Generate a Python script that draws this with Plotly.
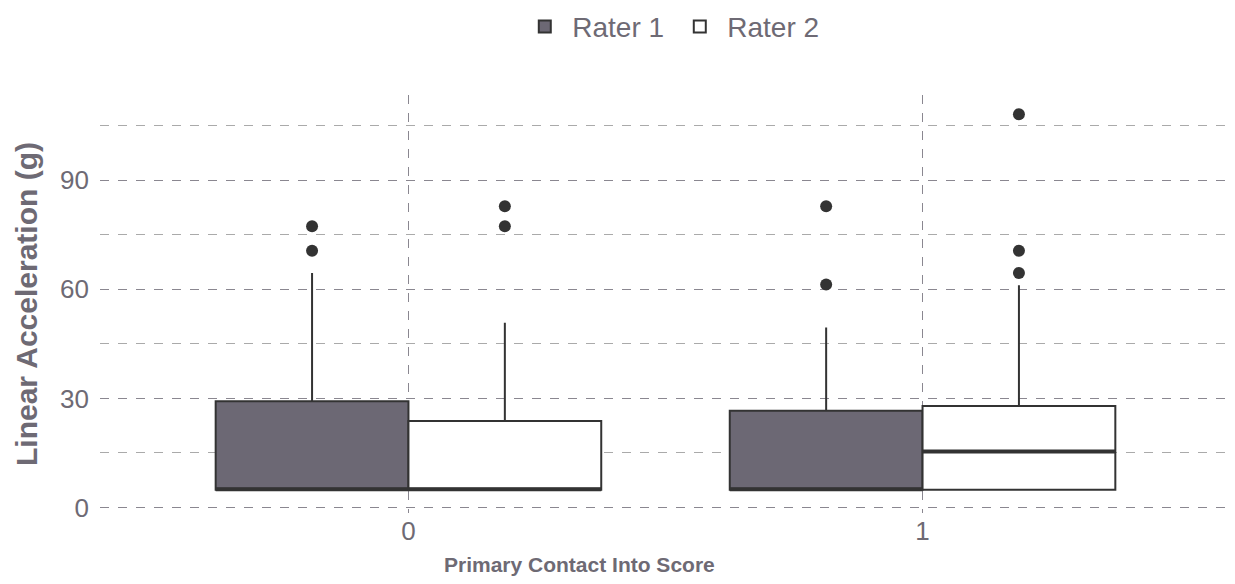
import plotly.graph_objects as go

categories = ["0", "1"]
cat_pos = [0, 1]
raters = ["Rater 1", "Rater 2"]

q1 = {"Rater 1": [4.9, 4.9], "Rater 2": [4.9, 4.9]}
median = {"Rater 1": [5.0, 5.0], "Rater 2": [5.0, 15.4]}
q3 = {"Rater 1": [29.2, 26.6], "Rater 2": [23.8, 27.9]}
upper = {"Rater 1": [64.5, 49.5], "Rater 2": [50.8, 61.1]}
lower = {"Rater 1": [4.9, 4.9], "Rater 2": [4.9, 4.9]}
outliers = {
    "Rater 1": [[70.6, 77.3], [61.3, 82.8]],
    "Rater 2": [[77.3, 82.8], [64.5, 70.6, 108.1]],
}
fills = {"Rater 1": "#6c6874", "Rater 2": "#ffffff"}

LINE = "#333333"
TEXT = "#6e6a74"
FONT = "Liberation Sans, Arial, sans-serif"
box_w = 0.375
offsets = {"Rater 1": -box_w / 2, "Rater 2": box_w / 2}

fig = go.Figure()
for r in raters:
    xs = [p + offsets[r] for p in cat_pos]
    fig.add_trace(go.Box(
        name=r, x=xs, q1=q1[r], median=median[r], q3=q3[r],
        lowerfence=lower[r], upperfence=upper[r],
        width=box_w, whiskerwidth=0, fillcolor=fills[r],
        line=dict(color=LINE, width=2), boxpoints=False,
        showlegend=True, hoverinfo="skip",
    ))
for r in raters:
    for i, p in enumerate(cat_pos):
        xc = p + offsets[r]
        fig.add_trace(go.Scatter(
            x=[xc - box_w / 2, xc + box_w / 2], y=[median[r][i]] * 2,
            mode="lines", line=dict(color=LINE, width=4),
            showlegend=False, hoverinfo="skip",
        ))
        fig.add_trace(go.Scatter(
            x=[xc] * len(outliers[r][i]), y=outliers[r][i],
            mode="markers", marker=dict(color=LINE, size=12),
            showlegend=False, hoverinfo="skip",
        ))

fig.add_annotation(
    text="<b>Primary Contact Into Score</b>", xref="paper", yref="paper",
    x=0.424, y=-0.1244, xanchor="center", yanchor="middle", showarrow=False,
    font=dict(size=21, color=TEXT, family=FONT),
)

fig.update_layout(
    width=1227, height=576,
    margin=dict(l=92, r=4, t=87, b=71, autoexpand=False),
    plot_bgcolor="white", paper_bgcolor="white",
    font=dict(family=FONT, color=TEXT, size=26),
    legend=dict(orientation="h", x=0.506, xanchor="center", y=1.163, yanchor="middle",
                font=dict(size=28, color=TEXT), itemwidth=45, entrywidth=95,
                traceorder="normal"),
    xaxis=dict(
        range=[-0.6, 1.6], tickvals=cat_pos, ticktext=categories,
        showgrid=True, gridcolor="#8a8790", griddash="dash", gridwidth=1,
        zeroline=False, showline=False, ticks="", automargin=False,
        tickfont=dict(size=26, color=TEXT),
    ),
    yaxis=dict(
        range=[-1.5, 113.4], tickvals=[0, 30, 60, 90],
        showgrid=True, gridcolor="#8a8790", griddash="dash", gridwidth=1,
        minor=dict(tickvals=[15, 45, 75, 105], showgrid=True, gridcolor="#aaaaaa", griddash="dash", gridwidth=1),
        zeroline=False, showline=False, ticks="", automargin=False,
        ticklabelstandoff=10,
        tickfont=dict(size=26, color=TEXT),
        title=dict(text="<b>Linear Acceleration (g)</b>", font=dict(size=30, color=TEXT), standoff=13),
    ),
)

fig.write_html("out.html")
